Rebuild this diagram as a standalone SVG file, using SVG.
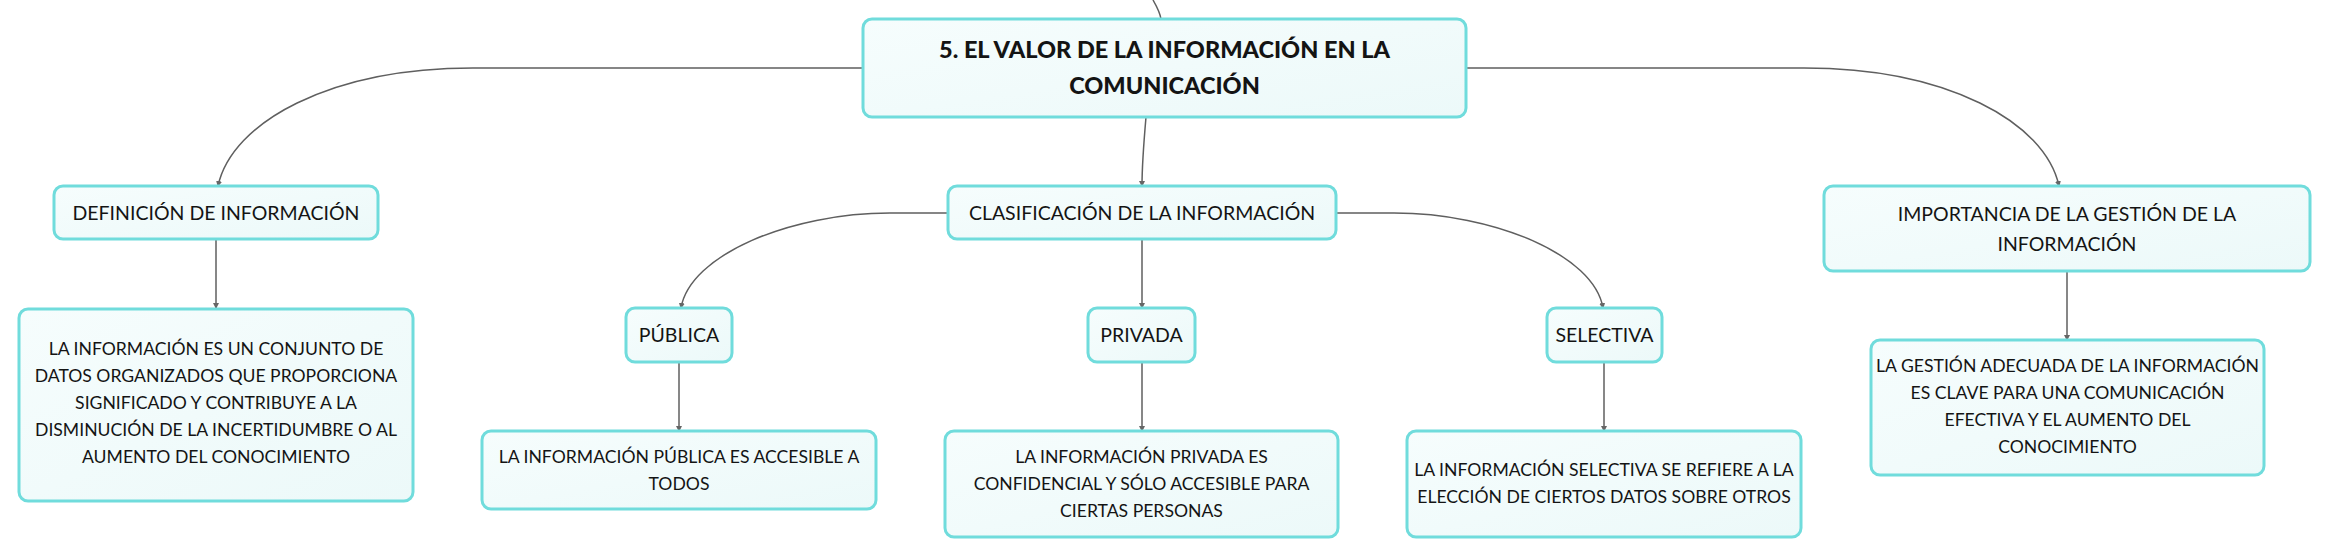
<svg xmlns="http://www.w3.org/2000/svg" width="2330" height="558" viewBox="0 0 2330 558">
  <defs>
    <linearGradient id="nodeFill" x1="0" y1="0" x2="1" y2="1">
      <stop offset="0" stop-color="#f6fdfd"/>
      <stop offset="1" stop-color="#ecf9f9"/>
    </linearGradient>
    <marker id="arr" viewBox="0 0 6 6" refX="5" refY="3" markerWidth="4" markerHeight="4" orient="auto">
      <path d="M0,0 L6,3 L0,6 z" fill="#666"/>
    </marker>
    <style>
      .box { fill: url(#nodeFill); stroke: #70dcdc; stroke-width: 3; }
      .t { font-family: Lato, "Noto Sans", "Liberation Sans", sans-serif; font-size: 17.6px; fill: #141414; text-anchor: middle; }
      .lbl { font-size: 19.5px; }
      .title { font-size: 23.5px; font-weight: 900; }
      .c { fill: none; stroke: #5f5f5f; stroke-width: 1.5; }
    </style>
  </defs>
  <rect width="2330" height="558" fill="#ffffff"/>

  <g id="connectors">
    <path class="c" d="M1153,0 C1157,7 1160,13 1161,19"/>
    <path class="c" d="M863,68 H473 C330,68 232,122 218,186" marker-end="url(#arr)"/>
    <path class="c" d="M1466,68 H1804 C1947,68 2045,122 2059,186" marker-end="url(#arr)"/>
    <path class="c" d="M1146,117 C1144,140 1142,165 1142,186" marker-end="url(#arr)"/>
    <path class="c" d="M216,239 V308" marker-end="url(#arr)"/>
    <path class="c" d="M948,213 H890 C790,213 690,255 681,308" marker-end="url(#arr)"/>
    <path class="c" d="M1142,239 V308" marker-end="url(#arr)"/>
    <path class="c" d="M1336,213 H1394 C1494,213 1594,255 1603,308" marker-end="url(#arr)"/>
    <path class="c" d="M679,362 V431" marker-end="url(#arr)"/>
    <path class="c" d="M1142,362 V431" marker-end="url(#arr)"/>
    <path class="c" d="M1604,362 V431" marker-end="url(#arr)"/>
    <path class="c" d="M2067,271 V340" marker-end="url(#arr)"/>
  </g>

  <g id="main">
    <rect class="box" x="863" y="19" width="603" height="98" rx="9"/>
    <text class="t title" x="1164.5" y="58">5. EL VALOR DE LA INFORMACIÓN EN LA</text>
    <text class="t title" x="1164.5" y="94">COMUNICACIÓN</text>
  </g>

  <g id="definicion">
    <rect class="box" x="54" y="186" width="324" height="53" rx="9"/>
    <text class="t lbl" x="216" y="220">DEFINICIÓN DE INFORMACIÓN</text>
  </g>

  <g id="definicion-texto">
    <rect class="box" x="19" y="309" width="394" height="192" rx="9"/>
    <text class="t" x="216" y="355">LA INFORMACIÓN ES UN CONJUNTO DE</text>
    <text class="t" x="216" y="382">DATOS ORGANIZADOS QUE PROPORCIONA</text>
    <text class="t" x="216" y="409">SIGNIFICADO Y CONTRIBUYE A LA</text>
    <text class="t" x="216" y="436">DISMINUCIÓN DE LA INCERTIDUMBRE O AL</text>
    <text class="t" x="216" y="463">AUMENTO DEL CONOCIMIENTO</text>
  </g>

  <g id="clasificacion">
    <rect class="box" x="948" y="186" width="388" height="53" rx="9"/>
    <text class="t lbl" x="1142" y="220">CLASIFICACIÓN DE LA INFORMACIÓN</text>
  </g>

  <g id="publica">
    <rect class="box" x="626" y="308" width="106" height="54" rx="9"/>
    <text class="t lbl" x="679" y="342">PÚBLICA</text>
  </g>

  <g id="privada">
    <rect class="box" x="1088" y="308" width="107" height="54" rx="9"/>
    <text class="t lbl" x="1141.5" y="342">PRIVADA</text>
  </g>

  <g id="selectiva">
    <rect class="box" x="1547" y="308" width="115" height="54" rx="9"/>
    <text class="t lbl" x="1604.5" y="342">SELECTIVA</text>
  </g>

  <g id="publica-texto">
    <rect class="box" x="482" y="431" width="394" height="78" rx="9"/>
    <text class="t" x="679" y="463">LA INFORMACIÓN PÚBLICA ES ACCESIBLE A</text>
    <text class="t" x="679" y="490">TODOS</text>
  </g>

  <g id="privada-texto">
    <rect class="box" x="945" y="431" width="393" height="106" rx="9"/>
    <text class="t" x="1141.5" y="463">LA INFORMACIÓN PRIVADA ES</text>
    <text class="t" x="1141.5" y="490">CONFIDENCIAL Y SÓLO ACCESIBLE PARA</text>
    <text class="t" x="1141.5" y="517">CIERTAS PERSONAS</text>
  </g>

  <g id="selectiva-texto">
    <rect class="box" x="1407" y="431" width="394" height="106" rx="9"/>
    <text class="t" x="1604" y="476">LA INFORMACIÓN SELECTIVA SE REFIERE A LA</text>
    <text class="t" x="1604" y="503">ELECCIÓN DE CIERTOS DATOS SOBRE OTROS</text>
  </g>

  <g id="importancia">
    <rect class="box" x="1824" y="186" width="486" height="85" rx="9"/>
    <text class="t lbl" x="2067" y="221">IMPORTANCIA DE LA GESTIÓN DE LA</text>
    <text class="t lbl" x="2067" y="251">INFORMACIÓN</text>
  </g>

  <g id="importancia-texto">
    <rect class="box" x="1871" y="340" width="393" height="135" rx="9"/>
    <text class="t" x="2067.5" y="372">LA GESTIÓN ADECUADA DE LA INFORMACIÓN</text>
    <text class="t" x="2067.5" y="399">ES CLAVE PARA UNA COMUNICACIÓN</text>
    <text class="t" x="2067.5" y="426">EFECTIVA Y EL AUMENTO DEL</text>
    <text class="t" x="2067.5" y="453">CONOCIMIENTO</text>
  </g>
</svg>
